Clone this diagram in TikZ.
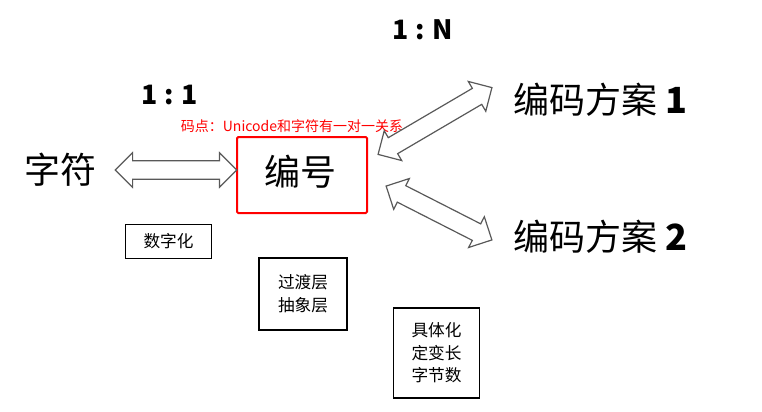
\documentclass[tikz,border=0pt]{standalone}
\usepackage{fontspec}
\setmainfont{Noto Sans CJK SC}
\usetikzlibrary{shapes.arrows}
\tikzset{
  bigtext/.style={font=\fontsize{27}{30}\selectfont},
  ratio/.style={font=\fontsize{20}{22}\selectfont\bfseries},
  smallbox/.style={draw, thick, align=left, font=\fontsize{12.5}{17}\selectfont, inner sep=0pt},
  hollowarrow/.style={double arrow, draw=gray!70!black, fill=white, line width=0.9pt,
    inner sep=6.5pt, double arrow head extend=6pt, double arrow head indent=0pt}
}
\begin{document}
\begin{tikzpicture}[x=0.75pt, y=-0.75pt]
    \useasboundingbox (0,0) rectangle (762,411);

    % ratios
    \node[ratio] (oneN) at (423,30) {1 : N};
    \node[ratio] (oneone) at (170,95) {1 : 1};
    \node[red, font=\fontsize{10.5}{12}\selectfont] (note) at (292,126) {码点：Unicode和字符有一对一关系};

    % main nodes
    \node[bigtext] (char) at (60,170) {字符};
    \draw[red, line width=1.5pt, rounded corners=1pt] (237,137) rectangle (367,213);
    \node[bigtext] (code) at (300,172) {编号};
    \node[bigtext, anchor=west] (scheme1) at (509,100) {编码方案 \textbf{1}};
    \node[bigtext, anchor=west] (scheme2) at (509,237) {编码方案 \textbf{2}};

    % hollow arrows
    \node[hollowarrow, minimum height=91pt] (arrA) at (176,170) {};
    \node[hollowarrow, minimum height=99pt, rotate=30.4] (arrB) at (435,121) {};
    \node[hollowarrow, minimum height=89pt, rotate=-27] (arrC) at (439,213) {};

    % notes
    \node[smallbox, minimum width=65pt, minimum height=25pt, align=center] (digit) at (168.5,241.5) {数字化};
    \node[smallbox, minimum width=66pt, minimum height=54pt] (layer) at (303,294) {过渡层\\抽象层};
    \node[smallbox, minimum width=65pt, minimum height=67.5pt] (concrete) at (436.5,353) {具体化\\定变长\\字节数};
\end{tikzpicture}
\end{document}
